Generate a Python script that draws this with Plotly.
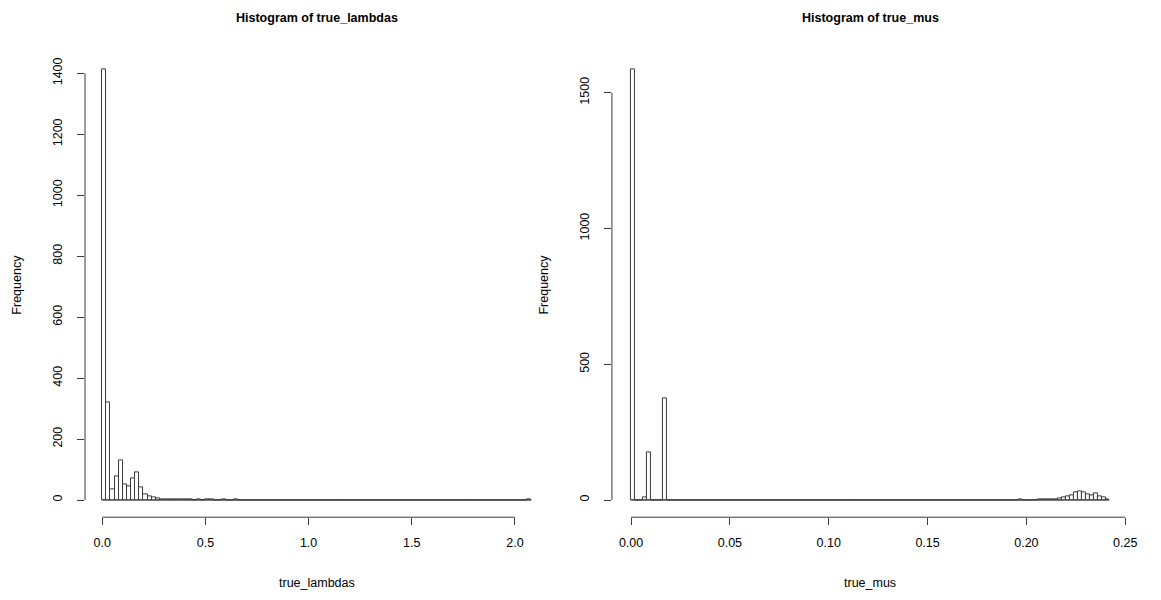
import numpy as np
import plotly.graph_objects as go

# ---- data -------------------------------------------------------------
# true_lambdas: bins of width 0.02 starting at 0
lambda_bin_width = 0.02
lambda_counts = [
    1412, 319, 35, 79, 131, 51, 44, 71, 90, 40,
    19, 13, 9, 6, 3, 2, 2, 3, 2, 1,
    1, 1, 0, 1, 0, 3, 1, 0, 0, 1,
    0, 0, 1, 0, 0, 0, 0, 0, 0, 0,
    0, 0, 0, 0, 0, 0, 0, 0, 0, 0,
    0, 0, 0, 0, 0, 0, 0, 0, 0, 0,
    0, 0, 0, 0, 0, 0, 0, 0, 0, 0,
    0, 0, 0, 0, 0, 0, 0, 0, 0, 0,
    0, 0, 0, 0, 0, 0, 0, 0, 0, 0,
    0, 0, 0, 0, 0, 0, 0, 0, 0, 0,
    0, 0, 0, 1,
]
lambda_ticks = [0.0, 0.5, 1.0, 1.5, 2.0]
lambda_ticktext = ["0.0", "0.5", "1.0", "1.5", "2.0"]
lambda_freq_ticks = [0, 200, 400, 600, 800, 1000, 1200, 1400]

# true_mus: bins of width 0.002 starting at 0
mu_bin_width = 0.002
mu_counts = [
    1585, 0, 0, 10, 175, 0, 0, 0, 375, 0,
    0, 0, 0, 0, 0, 0, 0, 0, 0, 0,
    0, 0, 0, 0, 0, 0, 0, 0, 0, 0,
    0, 0, 0, 0, 0, 0, 0, 0, 0, 0,
    0, 0, 0, 0, 0, 0, 0, 0, 0, 0,
    0, 0, 0, 0, 0, 0, 0, 0, 0, 0,
    0, 0, 0, 0, 0, 0, 0, 0, 0, 0,
    0, 0, 0, 0, 0, 0, 0, 0, 0, 0,
    0, 0, 0, 0, 0, 0, 0, 0, 0, 0,
    0, 0, 0, 0, 0, 0, 0, 0, 1, 0,
    0, 0, 0, 1, 1, 2, 1, 3, 5, 8,
    14, 18, 28, 31, 29, 20, 16, 24, 14, 8,
    3,
]
mu_ticks = [0.00, 0.05, 0.10, 0.15, 0.20, 0.25]
mu_ticktext = ["0.00", "0.05", "0.10", "0.15", "0.20", "0.25"]
mu_freq_ticks = [0, 500, 1000, 1500]

# ---- page geometry (pixels) -----------------------------------------
W, H = 1161, 600
FONT = "Liberation Sans, Arial, Helvetica, sans-serif"
INK = "#3a3a3a"
BASE_PX = 500.0       # pixel row of frequency 0
TOP_SPAN_PX = 430.4   # pixels from 0 up to the tallest bar


def px_x(p):
    return p / W


def px_y(p):
    return 1 - p / H


def panel(counts, bw, zero_px, px_per_unit):
    edges = np.arange(len(counts) + 1) * bw
    lo, hi = edges[0], edges[-1]
    span = hi - lo
    xr = [lo - 0.04 * span, hi + 0.04 * span]
    dom = [px_x(zero_px + (xr[0] - lo) * px_per_unit),
           px_x(zero_px + (xr[1] - lo) * px_per_unit)]
    m = max(counts)
    yr = [-0.04 * m, 1.04 * m]
    return edges, xr, dom, yr


L_edges, L_xr, L_dom, L_yr = panel(lambda_counts, lambda_bin_width, 103.0, 208.0)
R_edges, R_xr, R_dom, R_yr = panel(mu_counts, mu_bin_width, 636.0, 1992.0)

ydom = [px_y(BASE_PX + 0.04 * TOP_SPAN_PX), px_y(BASE_PX - 1.04 * TOP_SPAN_PX)]

fig = go.Figure()


def add_hist(edges, counts, bw, xa, ya):
    centers = (edges[:-1] + edges[1:]) / 2
    fig.add_trace(go.Bar(
        x=centers, y=counts, width=bw,
        marker=dict(color="white", line=dict(color=INK, width=1)),
        xaxis=xa, yaxis=ya, showlegend=False, hoverinfo="x+y",
    ))
    # empty bins still show their outline along the baseline
    fig.add_trace(go.Scatter(
        x=[edges[0], edges[-1]], y=[0, 0], mode="lines",
        line=dict(color=INK, width=1),
        xaxis=xa, yaxis=ya, showlegend=False, hoverinfo="skip",
    ))


add_hist(L_edges, lambda_counts, lambda_bin_width, "x", "y")
add_hist(R_edges, mu_counts, mu_bin_width, "x2", "y2")

tickfont = dict(family=FONT, size=12.5, color="black")
xcommon = dict(showgrid=False, zeroline=False, showline=False,
               ticks="outside", ticklen=7, tickwidth=1, tickcolor=INK,
               tickfont=tickfont, ticklabelstandoff=7, fixedrange=True)
ycommon = dict(showgrid=False, zeroline=False, showline=False,
               ticks="outside", ticklen=7, tickwidth=1, tickcolor=INK,
               tickfont=tickfont, tickangle=-90, ticklabelstandoff=10,
               fixedrange=True)

fig.update_layout(
    width=W, height=H,
    margin=dict(l=0, r=0, t=0, b=0),
    paper_bgcolor="white", plot_bgcolor="white",
    bargap=0, barmode="overlay",
    xaxis=dict(domain=L_dom, range=L_xr, anchor="y",
               tickvals=lambda_ticks, ticktext=lambda_ticktext, **xcommon),
    yaxis=dict(domain=ydom, range=L_yr, anchor="x",
               tickvals=lambda_freq_ticks, **ycommon),
    xaxis2=dict(domain=R_dom, range=R_xr, anchor="y2",
                tickvals=mu_ticks, ticktext=mu_ticktext, **xcommon),
    yaxis2=dict(domain=ydom, range=R_yr, anchor="x2",
                tickvals=mu_freq_ticks, **ycommon),
)

# axis lines running only between the outer ticks
line = dict(color=INK, width=1)
shapes = [
    dict(type="line", xref="x", yref="paper", x0=lambda_ticks[0], x1=lambda_ticks[-1],
         y0=ydom[0], y1=ydom[0], line=line),
    dict(type="line", xref="paper", yref="y", x0=L_dom[0], x1=L_dom[0],
         y0=lambda_freq_ticks[0], y1=lambda_freq_ticks[-1], line=line),
    dict(type="line", xref="x2", yref="paper", x0=mu_ticks[0], x1=mu_ticks[-1],
         y0=ydom[0], y1=ydom[0], line=line),
    dict(type="line", xref="paper", yref="y2", x0=R_dom[0], x1=R_dom[0],
         y0=mu_freq_ticks[0], y1=mu_freq_ticks[-1], line=line),
]
fig.update_layout(shapes=shapes)

ycenter = (ydom[0] + ydom[1]) / 2
labfont = dict(family=FONT, size=12.5, color="black")
titlefont = dict(family=FONT, size=12.5, color="black")
common_ann = dict(xref="paper", yref="paper", showarrow=False,
                  xanchor="center", yanchor="middle")
annotations = [
    dict(text="<b>Histogram of true_lambdas</b>", x=(L_dom[0] + L_dom[1]) / 2, y=px_y(18),
         font=titlefont, **common_ann),
    dict(text="<b>Histogram of true_mus</b>", x=(R_dom[0] + R_dom[1]) / 2, y=px_y(18),
         font=titlefont, **common_ann),
    dict(text="true_lambdas", x=(L_dom[0] + L_dom[1]) / 2, y=px_y(583),
         font=labfont, **common_ann),
    dict(text="true_mus", x=(R_dom[0] + R_dom[1]) / 2, y=px_y(583),
         font=labfont, **common_ann),
    dict(text="Frequency", x=px_x(17), y=ycenter, textangle=-90,
         font=labfont, **common_ann),
    dict(text="Frequency", x=px_x(548), y=ycenter, textangle=-90,
         font=labfont, **common_ann),
]
fig.update_layout(annotations=annotations)

fig.write_html("out.html")
